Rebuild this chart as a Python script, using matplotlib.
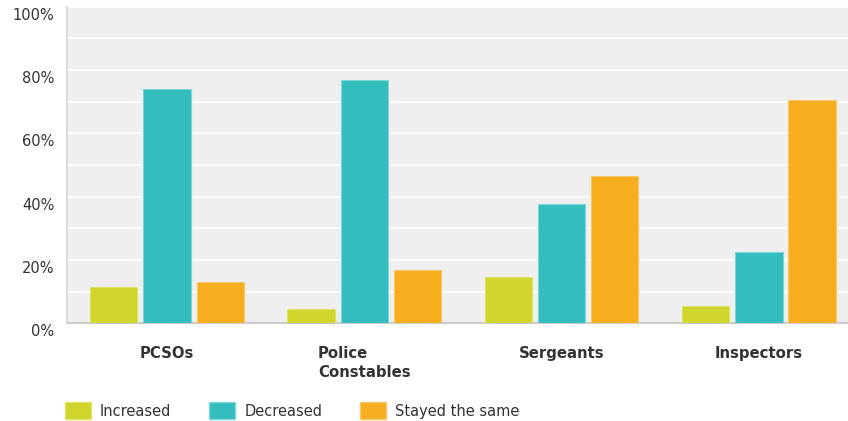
import matplotlib.pyplot as plt
import matplotlib.transforms as mtransforms
import numpy as np
from matplotlib.patches import Patch

plt.rcParams['font.family'] = ['DejaVu Sans']

categories = ['PCSOs', 'Police\nConstables', 'Sergeants', 'Inspectors']
series_names = ['Increased', 'Decreased', 'Stayed the same']
increased = [11.6, 4.6, 14.5, 5.6]
decreased = [74.1, 77.0, 37.6, 22.6]
stayed = [13.1, 17.0, 46.6, 70.6]
yticks = [0, 20, 40, 60, 80, 100]

colors = ['#cfd52a', '#33bdbf', '#f6ae1f']
edges = ['#dfe36a', '#7fd6d7', '#f9c86a']

fig = plt.figure(figsize=(8.48, 4.21), dpi=100)
ax = fig.add_axes([0.079, 0.232, 0.921, 0.752])
ax.set_facecolor('#efefef')

x = np.arange(len(categories))
width = 0.24  # bar width
step = 0.27   # spacing between bars in a group

for i, vals in enumerate([increased, decreased, stayed]):
    ax.bar(x + (i - 1) * step, vals, width, color=colors[i],
           edgecolor=edges[i], linewidth=0.8, zorder=3)

ax.set_ylim(0, 100)
ax.set_xlim(-0.507, 3.452)
ax.set_yticks(yticks)
ax.set_yticks(np.arange(10, 100, 10), minor=True)
ax.set_yticklabels(['%d%%' % v for v in yticks], fontsize=10.5, color='#333333')
ax.yaxis.grid(True, which='both', color='white', linewidth=1.2, zorder=0)
ax.set_axisbelow(True)
ax.tick_params(axis='y', which='both', length=0, pad=9)

# y labels sit a bit below their gridlines in the original
offset = mtransforms.ScaledTranslation(0, -7 / 100, fig.dpi_scale_trans)
for lab in ax.get_yticklabels():
    lab.set_transform(lab.get_transform() + offset)

ax.set_xticks(x)
ax.set_xticklabels(categories, fontsize=10.7, fontweight='bold', color='#333333',
                   va='top', multialignment='left', linespacing=1.35)
ax.tick_params(axis='x', length=0, pad=16)

for s in ['top', 'right']:
    ax.spines[s].set_visible(False)
ax.spines['left'].set_color('#d6d6d6')
ax.spines['left'].set_linewidth(1.2)
ax.spines['bottom'].set_color('#cccccc')
ax.spines['bottom'].set_linewidth(1.5)

handles = [Patch(facecolor=c, edgecolor=e) for c, e in zip(colors, edges)]
fig.legend(handles, series_names, loc='lower left', bbox_to_anchor=(0.061, -0.027),
           ncol=3, frameon=False, fontsize=10.5, handlelength=1.8, handleheight=1.4,
           handletextpad=0.6, columnspacing=2.6, labelcolor='#333333')

plt.savefig('out.png', dpi=100)
